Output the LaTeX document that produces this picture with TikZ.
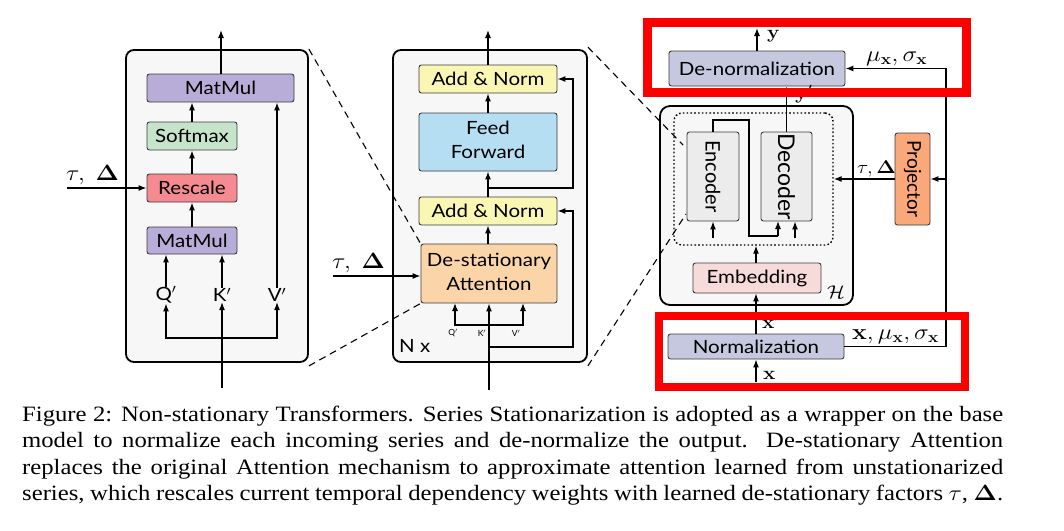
\documentclass[tikz,border=0pt]{standalone}
\usepackage[no-math]{fontspec}
\usepackage{graphicx}
\setmainfont{Liberation Serif}
\newfontfamily\diag{Lato}
\usetikzlibrary{arrows.meta,calc}
\newcommand{\sqz}[1]{\scalebox{1}[0.89]{#1}}
\definecolor{outerfill}{RGB}{247,247,247}
\definecolor{matmulc}{RGB}{184,172,216}
\definecolor{softc}{RGB}{197,228,201}
\definecolor{rescc}{RGB}{245,138,145}
\definecolor{addc}{RGB}{250,247,180}
\definecolor{ffc}{RGB}{181,222,242}
\definecolor{dsac}{RGB}{251,213,168}
\definecolor{normc}{RGB}{197,200,222}
\definecolor{encc}{RGB}{236,236,236}
\definecolor{embc}{RGB}{247,219,219}
\definecolor{projc}{RGB}{250,168,122}
\definecolor{hired}{RGB}{252,0,0}
\definecolor{bordc}{RGB}{60,60,60}
\begin{document}
\begin{tikzpicture}[x=1pt,y=-1pt,
  outerbox/.style={draw=black, line width=1.8pt, fill=outerfill, rounded corners=8pt, inner sep=0},
  blk/.style={draw=bordc, line width=0.9pt, rounded corners=2.5pt, inner sep=0, align=center,
     font=\diag\fontsize{20.5}{27}\selectfont},
  arr/.style={line width=1.2pt, -{Latex[length=8pt,width=6pt]}},
  ln/.style={line width=1.2pt},
  dsh/.style={line width=1.1pt, dash pattern=on 7pt off 5pt},
  lbl/.style={inner sep=0, font=\diag\fontsize{20.5}{24}\selectfont},
  mlbl/.style={inner sep=0, font=\fontsize{26}{30}\selectfont},
  redbox/.style={draw=hired, line width=8.5pt}
]
\useasboundingbox (0,0) rectangle (1064,530);
\fill[white] (0,0) rectangle (1064,530);

% ---------------- Left panel ----------------
\node[outerbox, minimum width=182pt, minimum height=312pt] (outerL) at (217,206) {};
\node[blk, fill=matmulc, minimum width=147pt, minimum height=28pt] (mm2) at (220.5,88) {\sqz{MatMul}};
\node[blk, fill=softc, minimum width=90pt, minimum height=28pt] (soft) at (192,136) {\sqz{Softmax}};
\node[blk, fill=rescc, minimum width=90pt, minimum height=28pt] (resc) at (192,188) {\sqz{Rescale}};
\node[blk, fill=matmulc, minimum width=90pt, minimum height=27pt] (mm1) at (192,240.5) {\sqz{MatMul}};
\node[lbl] (Q) at (166,295) {\sqz{Q$'$}};
\node[lbl] (K) at (222,295) {\sqz{K$'$}};
\node[lbl] (V) at (277,295) {\sqz{V$'$}};
\coordinate (topL) at (221,30);
\coordinate (inL) at (222,388);
\coordinate (forkL) at (222,338);
\coordinate (tauLin) at (67,188);
\node[mlbl, anchor=base west] (tauL) at (66,180) {\sqz{$\tau,\ \mathbf{\Delta}$}};

\draw[arr] (Q.north) -- (Q.north |- mm1.south);
\draw[arr] (K.north) -- (K.north |- mm1.south);
\draw[arr] (V.north) -- (V.north |- mm2.south);
\draw[arr] (mm1.north) -- (resc.south);
\draw[arr] (resc.north) -- (soft.south);
\draw[arr] (soft.north) -- (soft.north |- mm2.south);
\draw[arr] (mm2.north -| topL) -- (topL);
\draw[arr] (inL) -- (K.south);
\draw[arr] (forkL) -| (Q.south);
\draw[arr] (forkL) -| (V.south);
\draw[arr] (tauLin) -- (resc.west);

% ---------------- Middle panel ----------------
\node[outerbox, minimum width=194pt, minimum height=312pt] (outerM) at (490,206) {};
\node[blk, fill=addc, minimum width=138pt, minimum height=28pt] (an2) at (488,79) {\sqz{Add \& Norm}};
\node[blk, fill=ffc, minimum width=138pt, minimum height=58pt] (ff) at (488,142) {\sqz{\begin{tabular}{@{}c@{}}Feed\\Forward\end{tabular}}};
\node[blk, fill=addc, minimum width=138pt, minimum height=28pt] (an1) at (488,211) {\sqz{Add \& Norm}};
\node[blk, fill=dsac, minimum width=136pt, minimum height=59pt] (dsa) at (489,273.5) {\sqz{\begin{tabular}{@{}c@{}}De-stationary\\Attention\end{tabular}}};
\coordinate (topM) at (488,30);
\coordinate (inM) at (489,390);
\coordinate (r1) at (488,188);
\coordinate (r1e) at (573,188);
\coordinate (r2) at (489,347);
\coordinate (r2e) at (573,347);
\coordinate (forkM) at (489,325);
\coordinate (qM) at (455,303);
\coordinate (vM) at (523,303);
\coordinate (tauMin) at (333,276);
\node[inner sep=0, font=\diag\fontsize{8.5}{9}\selectfont] (Qs) at (453,333) {Q$'$};
\node[inner sep=0, font=\diag\fontsize{8.5}{9}\selectfont] (Ks) at (482,333) {K$'$};
\node[inner sep=0, font=\diag\fontsize{8.5}{9}\selectfont] (Vs) at (516,333) {V$'$};
\node[lbl, anchor=west] (Nx) at (399,346) {\sqz{N x}};
\node[mlbl, anchor=base west] (tauM) at (332,268) {\sqz{$\tau,\ \mathbf{\Delta}$}};

\draw[arr] (dsa.north -| an1.south) -- (an1.south);
\draw[arr] (an1.north) -- (ff.south);
\draw[arr] (ff.north) -- (an2.south);
\draw[arr] (an2.north) -- (topM);
\draw[arr] (r1) -- (r1e) |- (an2.east);
\draw[arr] (r2) -- (r2e) |- (an1.east);
\draw[arr] (inM) -- (inM |- dsa.south);
\draw[arr] (forkM) -| (qM);
\draw[arr] (forkM) -| (vM);
\draw[arr] (tauMin) -- (tauMin -| dsa.west);

% ---------------- Right panel ----------------
\node[outerbox, minimum width=193pt, minimum height=199pt, rounded corners=10pt] (Hbox) at (756.5,205.5) {};
\node[draw=black, line width=1.4pt, dash pattern=on 1.6pt off 2.2pt, rounded corners=8pt,
      minimum width=159pt, minimum height=132pt, inner sep=0] (dotted) at (753.5,179) {};
\node[blk, fill=encc, minimum width=52pt, minimum height=89pt] (enc) at (713,176.5) {};
\node[lbl, rotate=-90, font=\diag\fontsize{20}{24}\selectfont] (encT) at (enc) {Encoder};
\node[blk, fill=encc, minimum width=51pt, minimum height=89pt] (dec) at (786.5,176.5) {};
\node[lbl, rotate=-90, font=\diag\fontsize{23}{26}\selectfont] (decT) at (dec) {Decoder};
\node[blk, fill=embc, minimum width=128pt, minimum height=30pt] (emb) at (757,278) {\sqz{Embedding}};
\node[blk, fill=normc, minimum width=176pt, minimum height=35pt] (denorm) at (757,68.5) {\sqz{De-normalization}};
\node[blk, fill=normc, minimum width=176pt, minimum height=25pt] (norm) at (756,346.5) {\sqz{Normalization}};
\node[blk, fill=projc, minimum width=35pt, minimum height=92pt] (proj) at (912.5,179) {};
\node[lbl, rotate=-90, font=\diag\fontsize{19}{22}\selectfont] (projT) at (proj) {Projector};
\node[mlbl, font=\fontsize{21}{24}\selectfont] (Hl) at (836,292) {\sqz{$\mathcal{H}$}};

\coordinate (topR) at (757,28);
\coordinate (inR) at (756,382);
\coordinate (e1) at (713,120);
\coordinate (e2) at (749,120);
\coordinate (e3) at (749,236);
\coordinate (e4) at (778,236);
\coordinate (e5) at (778,221);
\coordinate (encIn) at (713,238);
\coordinate (decIn) at (795,238);
\coordinate (rv) at (946,68.5);

\draw[arr] (inR) -- (norm.south);
\draw[arr] (norm.north) -- (norm.north |- emb.south);
\draw[arr] (emb.north -| norm.north) -- (norm.north |- dotted.south);
\draw[arr] (denorm.north -| topR) -- (topR);
\draw[arr] (dec.north) -- (dec.north |- denorm.south);
\draw[ln] (enc.north) -- (e1) -- (e2) -- (e3) -- (e4);
\draw[arr] (e4) -- (e5);
\draw[arr] (encIn) -- (encIn |- enc.south);
\draw[arr] (decIn) -- (decIn |- dec.south);
\draw[arr] (norm.east) -| (rv) -- (denorm.east);
\draw[arr] (rv |- proj.east) -- (proj.east);
\draw[arr] (proj.west) -- (proj.west -| dotted.east);

\node[mlbl, font=\fontsize{20}{24}\selectfont, anchor=base west] (tauR) at (857,173) {\sqz{$\tau,\mathbf{\Delta}$}};
\node[mlbl, anchor=base west] (musig) at (866,61) {\sqz{$\mu_{\mathbf{x}},\sigma_{\mathbf{x}}$}};
\node[mlbl, font=\fontsize{25}{28}\selectfont, anchor=base west] (xmusig) at (852,339) {\sqz{$\mathbf{x},\mu_{\mathbf{x}},\sigma_{\mathbf{x}}$}};
\node[mlbl, font=\fontsize{22}{26}\selectfont, anchor=base west] (yl) at (767,38) {\sqz{$\mathbf{y}$}};
\node[mlbl, font=\fontsize{22}{26}\selectfont, anchor=base west] (ypl) at (795,99.5) {\sqz{$\mathbf{y}'$}};
\node[mlbl, font=\fontsize{22}{26}\selectfont, anchor=base west] (xpl) at (762,328) {\sqz{$\mathbf{x}'$}};
\node[mlbl, font=\fontsize{22}{26}\selectfont, anchor=base west] (xl) at (763,379) {\sqz{$\mathbf{x}$}};

% dashed zoom lines
\coordinate (dA) at (683,145);
\coordinate (dB) at (686,214);
\draw[dsh] (outerL.north east) -- (dsa.north west);
\draw[dsh] ([yshift=-3pt]outerL.south east) -- (dsa.south west);
\draw[dsh] ([yshift=2pt]outerM.north east) -- (dA);
\draw[dsh] ([yshift=-3pt]outerM.south east) -- (dB);

% red highlight boxes
\draw[redbox] (647.5,22.5) rectangle (966.5,92.5);
\draw[redbox, line width=8pt] (659,316) rectangle (965,386.5);

% caption
\node[anchor=base west, inner sep=0] (cap) at (22,421.7)
 {\scalebox{1}[0.888]{\parbox[t]{981pt}{\fontsize{24.68}{29.6}\selectfont
 Figure 2: Non-stationary Transformers. Series Stationarization is adopted as a wrapper on the base\linebreak
 model to normalize each incoming series and de-normalize the output. De-stationary Attention\linebreak
 replaces the original Attention mechanism to approximate attention learned from unstationarized\linebreak
 series, which rescales current temporal dependency weights with learned de-stationary factors $\tau$, $\mathbf{\Delta}$.}}};
\end{tikzpicture}
\end{document}
